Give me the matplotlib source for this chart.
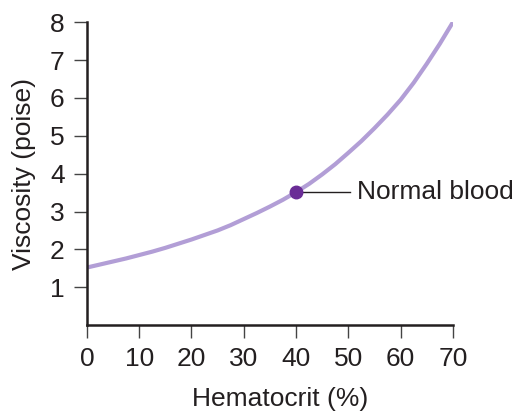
import matplotlib.pyplot as plt

plt.rcParams['font.family'] = ['Liberation Sans', 'DejaVu Sans']

# values
hematocrit = [0, 2.5, 5, 7.5, 10, 12.5, 15, 17.5, 20, 22.5, 25, 27.5, 30, 32.5, 35,
              37.5, 40, 42.5, 45, 47.5, 50, 52.5, 55, 57.5, 60, 62.5, 65, 67.5, 70]
viscosity = [1.52, 1.60, 1.68, 1.76, 1.85, 1.94, 2.04, 2.15, 2.26, 2.38, 2.50, 2.64, 2.80, 2.96, 3.13,
             3.31, 3.51, 3.73, 3.98, 4.25, 4.55, 4.86, 5.20, 5.56, 5.95, 6.40, 6.90, 7.43, 8.0]

normal_x = 40
normal_y = 3.51
normal_label = 'Normal blood'

xticks = [0, 10, 20, 30, 40, 50, 60, 70]
yticks = [1, 2, 3, 4, 5, 6, 7, 8]

text_color = '#231f20'

fig = plt.figure(figsize=(5.17, 4.11), dpi=100)
ax = fig.add_axes([0.168, 0.209, 0.708, 0.737])

ax.plot(hematocrit, viscosity, color='#b29ed6', linewidth=3, solid_capstyle='butt',
        solid_joinstyle='round', zorder=2)
ax.plot([normal_x, 50.3], [normal_y, normal_y], color='#231f20', linewidth=1, zorder=1)
ax.plot([normal_x], [normal_y], 'o', color='#6a2c96', markersize=9, zorder=3)
ax.text(51.6, normal_y, normal_label, fontsize=19, color=text_color, va='center', ha='left')

ax.set_xlim(0, 70)
ax.set_ylim(0, 8)
ax.set_xticks(xticks)
ax.set_yticks(yticks)

for s in ['top', 'right']:
    ax.spines[s].set_visible(False)
for s in ['left', 'bottom']:
    ax.spines[s].set_linewidth(1.8)
    ax.spines[s].set_color(text_color)

ax.tick_params(axis='both', length=9.5, width=1, color='#444444', labelsize=19, labelcolor=text_color)
ax.tick_params(axis='x', pad=6.5)
ax.tick_params(axis='y', pad=6.5)

ax.set_xlabel('Hematocrit (%)', fontsize=19, color=text_color, labelpad=11, x=0.527)
ax.set_ylabel('Viscosity (poise)', fontsize=19, color=text_color, labelpad=10)

fig.savefig('out.png', dpi=100)
